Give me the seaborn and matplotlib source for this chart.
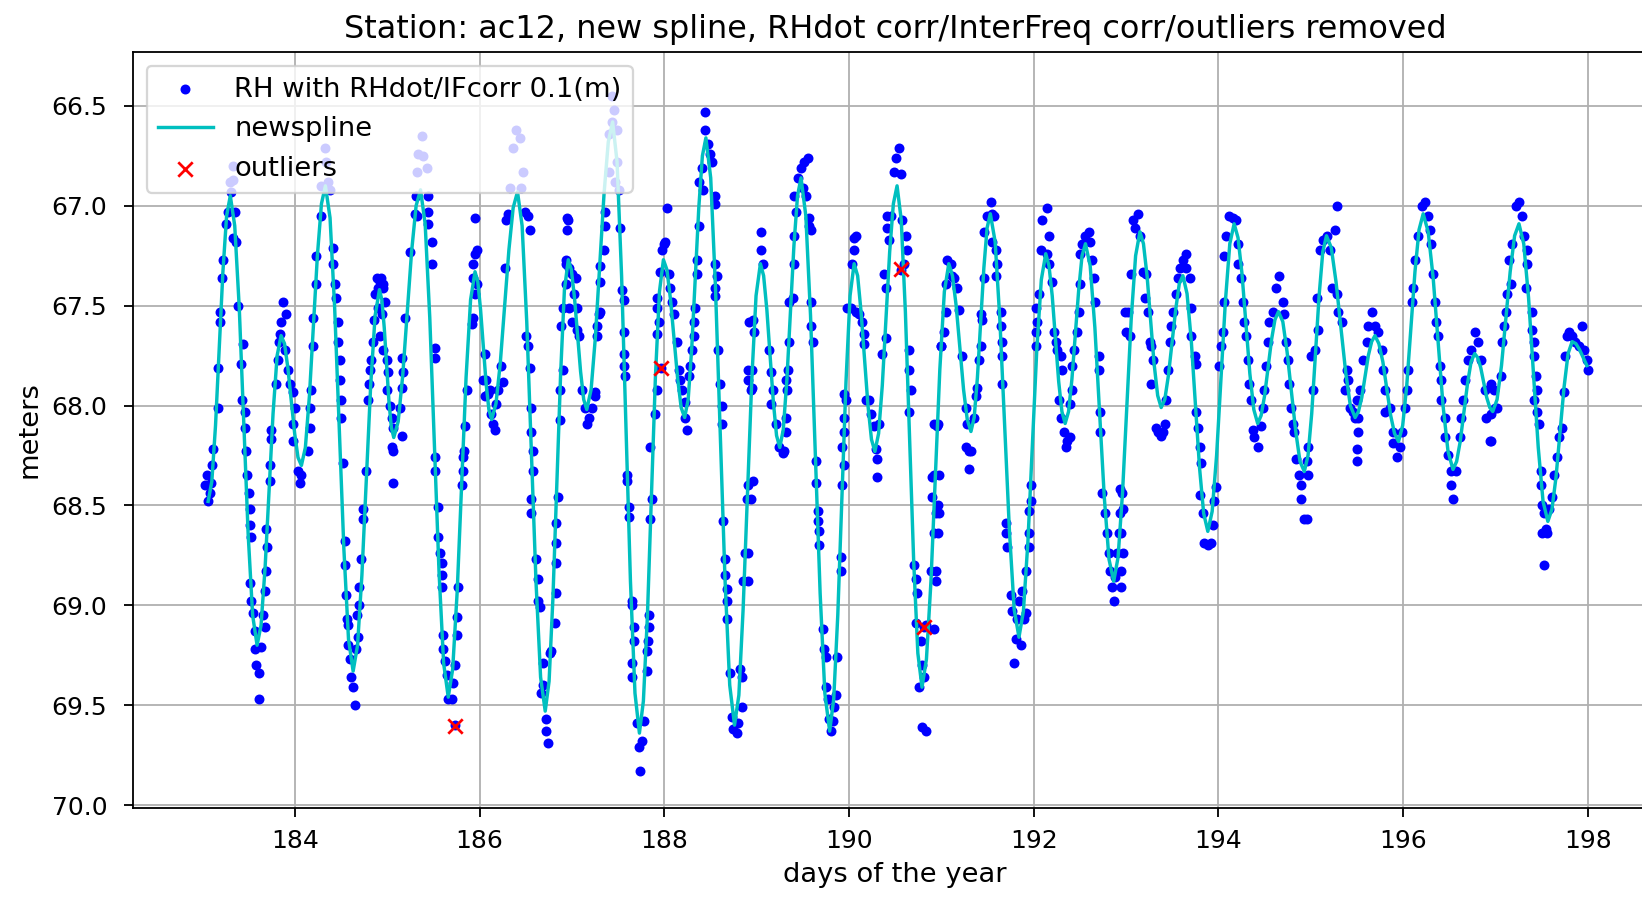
import matplotlib
matplotlib.use("Agg")
import matplotlib.pyplot as plt
import seaborn as sns
import pandas as pd

# ---------------- data ----------------
title = "Station: ac12, new spline, RHdot corr/InterFreq corr/outliers removed"

# observations, days 183-185
day_a = [183.025, 183.043, 183.061, 183.079, 183.097, 183.108, 183.087, 183.169, 183.169, 183.187,
         183.187, 183.205, 183.223, 183.252, 183.277, 183.313, 183.331, 183.324, 183.295, 183.349,
         183.331, 183.367, 183.385, 183.439, 183.421, 183.432, 183.457, 183.457, 183.475, 183.486,
         183.504, 183.511, 183.511, 183.529, 183.511, 183.529, 183.547, 183.565, 183.565, 183.583,
         183.612, 183.612, 183.637, 183.673, 183.655, 183.673, 183.691, 183.698, 183.691, 183.727,
         183.727, 183.745, 183.745, 183.799, 183.817, 183.828, 183.835, 183.853, 183.871, 183.907,
         183.889, 183.925, 183.943, 183.979, 183.997, 183.979, 183.979, 184.033, 184.051, 184.069,
         184.141, 184.159, 184.159, 184.177, 184.195, 184.195, 184.231, 184.231, 184.285, 184.285,
         184.321, 184.339, 184.357, 184.375, 184.411, 184.411, 184.429, 184.440, 184.465, 184.465,
         184.483, 184.490, 184.501, 184.501, 184.519, 184.537, 184.537, 184.555, 184.562, 184.573,
         184.573, 184.591, 184.609, 184.627, 184.645, 184.663, 184.681, 184.670, 184.692, 184.699,
         184.717, 184.735, 184.735, 184.771, 184.789, 184.807, 184.814, 184.825, 184.843, 184.861,
         184.872, 184.897, 184.933, 184.951]
rh_a = [68.40, 68.35, 68.48, 68.44, 68.30, 68.22, 68.39, 68.01, 67.81, 67.58,
        67.53, 67.36, 67.27, 67.09, 67.03, 66.93, 66.87, 66.80, 66.88, 67.03,
        67.16, 67.18, 67.50, 67.69, 67.79, 67.97, 68.03, 68.11, 68.23, 68.35,
        68.44, 68.52, 68.60, 68.66, 68.89, 68.98, 69.04, 69.13, 69.22, 69.30,
        69.34, 69.47, 69.21, 69.11, 69.05, 68.93, 68.83, 68.71, 68.62, 68.38,
        68.30, 68.17, 68.12, 67.89, 67.77, 67.68, 67.64, 67.58, 67.48, 67.54,
        67.72, 67.82, 67.89, 67.93, 68.01, 68.09, 68.18, 68.33, 68.39, 68.35,
        68.23, 68.11, 68.01, 67.92, 67.70, 67.56, 67.39, 67.25, 67.05, 66.90,
        66.71, 66.78, 66.88, 66.92, 67.21, 67.29, 67.39, 67.46, 67.58, 67.68,
        67.77, 67.87, 67.97, 68.06, 68.29, 68.68, 68.80, 68.95, 69.07, 69.10,
        69.20, 69.27, 69.36, 69.41, 69.50, 69.22, 69.16, 69.05, 69.00, 68.91,
        68.77, 68.57, 68.52, 68.33, 67.97, 67.89, 67.82, 67.77, 67.68, 67.57,
        67.44, 67.41, 67.36, 67.39]

# observations, days 185-187
day_b = [184.886, 184.922, 184.958, 184.904, 184.940, 184.976, 184.922, 184.958, 184.994, 185.012,
         184.994, 185.030, 185.048, 185.066, 185.048, 185.066, 185.059, 185.156, 185.138, 185.156,
         185.174, 185.156, 185.192, 185.246, 185.300, 185.318, 185.311, 185.318, 185.336, 185.372,
         185.390, 185.426, 185.444, 185.444, 185.444, 185.480, 185.480, 185.516, 185.516, 185.516,
         185.516, 185.552, 185.552, 185.570, 185.588, 185.588, 185.588, 185.606, 185.606, 185.624,
         185.642, 185.660, 185.696, 185.714, 185.732, 185.750, 185.750, 185.768, 185.804, 185.822,
         185.815, 185.830, 185.840, 185.858, 185.912, 185.930, 185.948, 185.930, 185.966, 185.930,
         185.948, 185.966, 185.948, 186.056, 186.038, 186.074, 186.056, 186.092, 186.110, 186.146,
         186.164, 186.128, 186.182, 186.200, 186.236, 186.254, 186.272, 186.290, 186.308, 186.326,
         186.362, 186.398, 186.434, 186.470, 186.452, 186.488, 186.524, 186.542, 186.506, 186.524,
         186.542, 186.560, 186.560, 186.578, 186.578, 186.560, 186.560, 186.614, 186.632, 186.632,
         186.650, 186.686, 186.686, 186.668, 186.722, 186.722, 186.740, 186.758, 186.776, 186.812,
         186.830, 186.830, 186.830, 186.830, 186.848, 186.866, 186.866, 186.902, 186.884, 186.902,
         186.938, 186.956, 185.730]
rh_b = [67.36, 67.38, 67.41, 67.51, 67.54, 67.48, 67.65, 67.72, 67.77, 67.83,
        67.92, 68.00, 68.06, 68.11, 68.21, 68.23, 68.39, 68.15, 68.01, 67.91,
        67.83, 67.76, 67.56, 67.23, 67.04, 67.05, 66.95, 66.83, 66.74, 66.65,
        66.75, 66.81, 66.95, 67.03, 67.09, 67.18, 67.29, 67.71, 67.76, 68.26,
        68.33, 68.51, 68.66, 68.74, 68.79, 68.85, 68.91, 69.15, 69.22, 69.28,
        69.35, 69.47, 69.47, 69.39, 69.30, 69.15, 69.06, 68.91, 68.40, 68.33,
        68.26, 68.23, 68.10, 67.92, 67.59, 67.56, 67.44, 67.36, 67.39, 67.29,
        67.24, 67.22, 67.06, 67.74, 67.87, 67.87, 67.95, 67.94, 67.92, 68.09,
        68.12, 68.04, 67.99, 67.92, 67.80, 67.88, 67.31, 67.07, 67.04, 66.91,
        66.71, 66.62, 66.66, 66.83, 66.91, 67.03, 67.05, 67.12, 67.65, 67.70,
        67.81, 68.01, 68.13, 68.23, 68.33, 68.47, 68.54, 68.77, 68.87, 68.98,
        69.01, 69.29, 69.40, 69.44, 69.57, 69.63, 69.69, 69.24, 69.23, 69.09,
        68.94, 68.79, 68.69, 68.59, 68.46, 67.92, 68.07, 67.82, 67.60, 67.51,
        67.29, 67.07, 69.60]

# observations, days 187-189
day_c = [186.948, 186.948, 186.930, 186.966, 186.930, 187.002, 187.038, 187.020, 186.966, 187.056,
         187.002, 187.056, 187.074, 187.110, 187.146, 187.164, 187.182, 187.218, 187.254, 187.254,
         187.272, 187.272, 187.290, 187.308, 187.308, 187.308, 187.344, 187.362, 187.362, 187.398,
         187.398, 187.434, 187.452, 187.434, 187.488, 187.488, 187.470, 187.506, 187.524, 187.542,
         187.560, 187.560, 187.560, 187.560, 187.578, 187.596, 187.596, 187.614, 187.614, 187.650,
         187.650, 187.668, 187.668, 187.650, 187.650, 187.704, 187.722, 187.740, 187.758, 187.776,
         187.812, 187.812, 187.823, 187.837, 187.830, 187.848, 187.866, 187.848, 187.902, 187.920,
         187.920, 187.938, 187.920, 187.920, 187.956, 187.974, 187.992, 188.010, 188.028, 188.046,
         188.064, 188.082, 188.100, 188.136, 188.154, 188.172, 188.190, 188.226, 188.244, 188.226,
         188.262, 188.280, 188.298, 188.316, 188.316, 188.334, 188.352, 188.352, 188.370, 188.377,
         188.406, 188.424, 188.442, 188.435, 188.478, 188.496, 188.514, 188.550, 188.550, 188.550,
         188.568, 188.550, 188.550, 188.586, 188.604, 188.622, 188.622, 188.640, 188.658, 188.658,
         188.676, 188.676, 188.676, 188.712, 188.730, 188.748, 188.784, 188.802, 188.838, 188.838,
         188.820, 188.856, 188.874, 188.892, 188.964, 188.946, 188.946, 187.963]
rh_c = [67.06, 67.12, 67.27, 67.31, 67.39, 67.34, 67.36, 67.44, 67.51, 67.51,
        67.58, 67.62, 67.65, 67.92, 68.01, 68.09, 68.06, 68.01, 67.93, 67.95,
        67.65, 67.60, 67.54, 67.53, 67.38, 67.30, 67.22, 67.10, 67.03, 66.83,
        66.64, 66.58, 66.52, 66.45, 66.62, 66.78, 66.88, 66.92, 67.11, 67.42,
        67.47, 67.63, 67.74, 67.80, 67.85, 68.35, 68.38, 68.51, 68.56, 68.98,
        69.00, 69.11, 69.18, 69.29, 69.36, 69.59, 69.71, 69.83, 69.68, 69.58,
        69.33, 69.23, 69.18, 69.11, 69.05, 68.57, 68.47, 68.21, 68.04, 67.92,
        67.64, 67.58, 67.51, 67.46, 67.33, 67.22, 67.19, 67.18, 67.01, 67.34,
        67.41, 67.48, 67.54, 67.68, 67.82, 67.87, 67.92, 68.06, 68.12, 67.98,
        67.85, 67.80, 67.72, 67.65, 67.58, 67.51, 67.34, 67.27, 67.10, 66.88,
        66.81, 66.92, 66.62, 66.53, 66.69, 66.74, 66.78, 66.95, 66.99, 67.29,
        67.35, 67.41, 67.45, 67.72, 67.89, 68.00, 68.09, 68.58, 68.77, 68.85,
        68.92, 68.98, 69.07, 69.34, 69.56, 69.62, 69.64, 69.59, 69.51, 69.36,
        69.32, 68.88, 68.74, 68.47, 68.38, 67.82, 67.91, 67.81]

# observations, days 189-191
day_d = [188.903, 188.903, 188.939, 188.921, 188.975, 188.957, 189.047, 189.047, 189.065, 188.903,
         188.939, 188.903, 188.903, 189.137, 189.155, 189.173, 189.155, 189.209, 189.245, 189.281,
         189.299, 189.317, 189.317, 189.328, 189.335, 189.317, 189.353, 189.353, 189.389, 189.407,
         189.407, 189.425, 189.407, 189.443, 189.479, 189.515, 189.551, 189.497, 189.533, 189.569,
         189.569, 189.587, 189.587, 189.587, 189.605, 189.641, 189.641, 189.659, 189.659, 189.677,
         189.677, 189.713, 189.731, 189.749, 189.749, 189.767, 189.785, 189.803, 189.821, 189.839,
         189.857, 189.875, 189.911, 189.911, 189.929, 189.947, 189.929, 189.947, 189.947, 189.965,
         189.947, 189.983, 190.037, 190.055, 190.055, 190.073, 190.019, 190.073, 190.109, 190.145,
         190.163, 190.163, 190.181, 190.217, 190.235, 190.271, 190.289, 190.307, 190.307, 190.325,
         190.361, 190.397, 190.379, 190.397, 190.415, 190.415, 190.433, 190.451, 190.487, 190.505,
         190.541, 190.559, 190.577, 190.613, 190.631, 190.595, 190.649, 190.649, 190.667, 190.649,
         190.703, 190.721, 190.739, 190.721, 190.775, 190.793, 190.757, 190.811, 190.793, 190.829,
         190.829, 190.883, 190.919, 190.937, 190.901, 190.901, 190.955, 190.991, 190.566, 190.810]
rh_d = [67.82, 67.87, 67.92, 67.58, 67.63, 67.57, 67.13, 67.22, 67.29, 68.40,
        68.47, 68.74, 68.88, 67.72, 67.83, 67.92, 67.99, 68.09, 68.21, 68.24,
        68.23, 68.13, 68.06, 67.92, 67.82, 67.87, 67.68, 67.48, 67.46, 67.29,
        67.15, 67.03, 66.95, 66.86, 66.81, 66.78, 66.76, 66.91, 66.95, 67.06,
        67.10, 67.12, 67.48, 67.60, 67.68, 68.28, 68.39, 68.53, 68.58, 68.63,
        68.70, 69.12, 69.22, 69.26, 69.41, 69.47, 69.57, 69.63, 69.58, 69.51,
        69.45, 69.26, 68.76, 68.83, 68.40, 68.30, 68.21, 68.13, 68.06, 67.97,
        67.94, 67.51, 67.29, 67.22, 67.16, 67.15, 67.51, 67.53, 67.54, 67.58,
        67.69, 67.64, 67.97, 67.97, 68.04, 68.10, 68.22, 68.27, 68.36, 68.09,
        67.74, 67.66, 67.34, 67.41, 67.11, 67.05, 67.17, 67.05, 66.83, 66.76,
        66.71, 66.84, 67.07, 67.15, 67.22, 67.29, 67.72, 67.82, 67.92, 68.03,
        68.80, 68.87, 68.94, 69.09, 69.18, 69.30, 69.41, 69.36, 69.61, 69.63,
        69.10, 68.83, 68.64, 68.54, 68.46, 68.36, 68.10, 67.70, 67.32, 69.11]

# observations, days 191-193
day_e = [190.922, 190.958, 190.976, 190.922, 190.958, 190.976, 190.958, 190.940, 190.940, 190.922,
         190.994, 191.030, 191.048, 191.048, 191.066, 191.102, 191.120, 191.138, 191.174, 191.192,
         191.228, 191.264, 191.282, 191.264, 191.300, 191.318, 191.300, 191.354, 191.372, 191.390,
         191.408, 191.426, 191.444, 191.426, 191.462, 191.462, 191.498, 191.534, 191.552, 191.570,
         191.552, 191.588, 191.606, 191.588, 191.642, 191.642, 191.660, 191.660, 191.660, 191.696,
         191.696, 191.714, 191.750, 191.768, 191.786, 191.804, 191.822, 191.840, 191.858, 191.876,
         191.894, 191.912, 191.912, 191.948, 191.948, 191.948, 191.966, 191.966, 192.020, 192.020,
         192.038, 192.020, 192.056, 192.074, 192.092, 192.146, 192.164, 192.146, 192.164, 192.200,
         192.218, 192.236, 192.254, 192.290, 192.308, 192.272, 192.290, 192.326, 192.344, 192.362,
         192.398, 192.398, 192.416, 192.416, 192.434, 192.470, 192.488, 192.506, 192.506, 192.524,
         192.560, 192.596, 192.614, 192.632, 192.650, 192.668, 192.704, 192.704, 192.722, 192.722,
         192.740, 192.776, 192.794, 192.812, 192.830, 192.848, 192.866, 192.884, 192.902, 192.920,
         192.938, 192.956, 192.992]
rh_e = [68.09, 68.09, 68.35, 68.35, 68.50, 68.54, 68.64, 68.83, 68.88, 69.12,
        67.70, 67.63, 67.53, 67.39, 67.27, 67.29, 67.35, 67.36, 67.41, 67.52,
        67.75, 68.01, 68.09, 68.21, 68.23, 68.23, 68.32, 68.06, 67.95, 67.91,
        67.77, 67.70, 67.57, 67.54, 67.36, 67.13, 67.05, 66.98, 67.04, 67.05,
        67.18, 67.22, 67.29, 67.35, 67.53, 67.60, 67.68, 67.75, 67.89, 68.59,
        68.64, 68.71, 68.95, 69.03, 69.29, 69.17, 69.07, 68.98, 69.20, 68.93,
        69.07, 69.04, 68.83, 68.71, 68.64, 68.53, 68.48, 68.40, 67.70, 67.63,
        67.58, 67.51, 67.44, 67.22, 67.07, 67.01, 67.15, 67.24, 67.29, 67.38,
        67.63, 67.68, 67.72, 67.75, 67.82, 67.97, 68.06, 68.13, 68.21, 68.18,
        68.16, 67.99, 67.92, 67.80, 67.72, 67.63, 67.53, 67.39, 67.24, 67.19,
        67.15, 67.13, 67.18, 67.27, 67.36, 67.48, 67.75, 67.82, 68.03, 68.13,
        68.44, 68.54, 68.64, 68.74, 68.83, 68.91, 68.98, 68.86, 68.74, 68.64,
        68.54, 68.44, 67.53]

# observations, days 193-195
day_f = [192.931, 192.967, 192.949, 192.967, 192.949, 192.949, 193.003, 193.021, 193.039, 193.057,
         193.075, 193.093, 193.129, 193.147, 193.183, 193.219, 193.201, 193.237, 193.255, 193.273,
         193.291, 193.273, 193.327, 193.345, 193.381, 193.399, 193.417, 193.435, 193.453, 193.471,
         193.489, 193.507, 193.543, 193.561, 193.579, 193.615, 193.651, 193.651, 193.687, 193.705,
         193.705, 193.741, 193.759, 193.759, 193.777, 193.795, 193.813, 193.795, 193.831, 193.849,
         193.885, 193.921, 193.939, 193.957, 193.975, 194.011, 194.029, 194.047, 194.065, 194.065,
         194.083, 194.119, 194.155, 194.191, 194.209, 194.209, 194.245, 194.263, 194.281, 194.299,
         194.317, 194.335, 194.353, 194.371, 194.389, 194.425, 194.461, 194.479, 194.497, 194.515,
         194.533, 194.551, 194.587, 194.623, 194.659, 194.695, 194.713, 194.731, 194.749, 194.767,
         194.785, 194.803, 194.821, 194.839, 194.875, 194.893, 194.893, 194.929, 194.965, 195.001]
rh_f = [68.42, 68.52, 68.64, 68.74, 68.83, 68.91, 67.63, 67.53, 67.65, 67.34,
        67.07, 67.11, 67.04, 67.15, 67.33, 67.34, 67.46, 67.53, 67.68, 67.70,
        67.77, 67.89, 68.11, 68.13, 68.15, 68.13, 68.09, 67.97, 67.82, 67.68,
        67.60, 67.53, 67.44, 67.36, 67.31, 67.27, 67.24, 67.31, 67.36, 67.51,
        67.65, 67.75, 67.79, 68.03, 68.11, 68.21, 68.29, 68.45, 68.54, 68.69,
        68.70, 68.69, 68.60, 68.48, 68.41, 67.80, 67.70, 67.63, 67.48, 67.25,
        67.15, 67.05, 67.06, 67.07, 67.19, 67.29, 67.36, 67.48, 67.58, 67.65,
        67.77, 67.89, 67.97, 68.12, 68.16, 68.21, 68.10, 68.01, 67.92, 67.80,
        67.68, 67.58, 67.53, 67.41, 67.35, 67.48, 67.54, 67.68, 67.77, 67.89,
        68.01, 68.09, 68.13, 68.27, 68.35, 68.40, 68.47, 68.57, 68.21, 67.75]

# observations, days 195-197
day_g = [194.957, 194.975, 194.957, 195.029, 195.047, 195.083, 195.065, 195.101, 195.137, 195.173,
         195.209, 195.281, 195.263, 195.227, 195.281, 195.299, 195.335, 195.389, 195.407, 195.371,
         195.425, 195.461, 195.479, 195.497, 195.533, 195.515, 195.515, 195.497, 195.497, 195.569,
         195.605, 195.623, 195.659, 195.695, 195.731, 195.767, 195.785, 195.803, 195.803, 195.857,
         195.893, 195.893, 195.929, 195.965, 195.983, 196.019, 196.037, 196.055, 196.091, 196.109,
         196.127, 196.163, 196.199, 196.235, 196.271, 196.289, 196.307, 196.325, 196.343, 196.361,
         196.379, 196.397, 196.415, 196.415, 196.451, 196.451, 196.487, 196.523, 196.523, 196.541,
         196.577, 196.613, 196.631, 196.649, 196.667, 196.703, 196.739, 196.775, 196.811, 196.847,
         196.883, 196.901, 196.937, 196.955, 196.990]
rh_g = [68.28, 68.35, 68.57, 67.92, 67.72, 67.62, 67.46, 67.22, 67.17, 67.15,
        67.22, 67.00, 67.12, 67.41, 67.44, 67.53, 67.58, 67.82, 67.87, 67.92,
        68.01, 68.03, 68.06, 67.97, 67.92, 68.06, 68.13, 68.22, 68.28, 67.77,
        67.68, 67.60, 67.53, 67.60, 67.63, 67.72, 67.82, 67.92, 68.03, 68.01,
        68.13, 68.19, 68.26, 68.21, 68.13, 68.01, 67.92, 67.82, 67.48, 67.41,
        67.27, 67.15, 67.00, 66.98, 67.05, 67.12, 67.19, 67.34, 67.48, 67.58,
        67.65, 67.80, 67.87, 67.97, 68.06, 68.16, 68.25, 68.33, 68.40, 68.47,
        68.33, 68.16, 68.06, 67.97, 67.87, 67.77, 67.72, 67.63, 67.68, 67.77,
        67.92, 68.06, 68.18, 68.04, 68.01]

# observations, days 197-198
day_h = [196.948, 196.984, 197.020, 196.948, 197.056, 197.074, 197.092, 197.110, 197.128, 197.164,
         197.146, 197.182, 197.218, 197.254, 197.290, 197.308, 197.344, 197.344, 197.326, 197.398,
         197.398, 197.416, 197.416, 197.434, 197.452, 197.416, 197.452, 197.470, 197.488, 197.488,
         197.506, 197.524, 197.506, 197.542, 197.560, 197.524, 197.578, 197.614, 197.632, 197.668,
         197.686, 197.722, 197.740, 197.758, 197.776, 197.794, 197.830, 197.866, 197.902, 197.938,
         197.956, 197.992, 198.000]
rh_h = [67.89, 67.92, 68.01, 68.18, 67.85, 67.68, 67.60, 67.53, 67.44, 67.39,
        67.27, 67.19, 67.00, 66.98, 67.05, 67.15, 67.22, 67.29, 67.41, 67.53,
        67.62, 67.68, 67.75, 67.85, 67.92, 67.97, 68.03, 68.09, 68.33, 68.40,
        68.50, 68.54, 68.64, 68.62, 68.64, 68.80, 68.52, 68.46, 68.35, 68.26,
        68.16, 68.11, 67.93, 67.75, 67.65, 67.63, 67.65, 67.68, 67.70, 67.60,
        67.72, 67.77, 67.82]

# new spline (extrema and points between them)
spline_day = [183.06, 183.14, 183.22, 183.30, 183.397, 183.493, 183.59, 183.677, 183.763, 183.85,
              183.923, 183.997, 184.07, 184.157, 184.243, 184.33, 184.43, 184.53, 184.63, 184.725,
              184.82, 184.915, 184.967, 185.018, 185.07, 185.167, 185.263, 185.36, 185.46, 185.56,
              185.66, 185.757, 185.853, 185.95, 186.01, 186.07, 186.13, 186.223, 186.317, 186.41,
              186.51, 186.61, 186.71, 186.793, 186.877, 186.96, 187.027, 187.093, 187.16, 187.253,
              187.347, 187.44, 187.537, 187.633, 187.73, 187.817, 187.903, 187.99, 188.067, 188.143,
              188.22, 188.297, 188.373, 188.45, 188.553, 188.657, 188.76, 188.853, 188.947, 189.04,
              189.11, 189.18, 189.25, 189.327, 189.403, 189.48, 189.583, 189.687, 189.79, 189.878,
              189.967, 190.055, 190.13, 190.205, 190.28, 190.36, 190.44, 190.52, 190.61, 190.70,
              190.79, 190.887, 190.983, 191.08, 191.16, 191.24, 191.32, 191.39, 191.46, 191.53,
              191.633, 191.737, 191.84, 191.937, 192.033, 192.13, 192.20, 192.27, 192.34, 192.413,
              192.487, 192.56, 192.662, 192.764, 192.866, 192.961, 193.055, 193.15, 193.227, 193.303,
              193.38, 193.458, 193.537, 193.615, 193.705, 193.795, 193.885, 193.98, 194.075, 194.17,
              194.255, 194.34, 194.425, 194.50, 194.575, 194.65, 194.743, 194.837, 194.93, 195.01,
              195.09, 195.17, 195.273, 195.377, 195.48, 195.552, 195.623, 195.695, 195.78, 195.865,
              195.95, 196.039, 196.128, 196.217, 196.325, 196.432, 196.54, 196.618, 196.697, 196.775,
              196.84, 196.905, 196.97, 197.065, 197.159, 197.254, 197.358, 197.463, 197.567, 197.655,
              197.742, 197.83, 197.91, 197.99]
spline_rh = [68.48, 68.10, 67.33, 66.95, 67.51, 68.64, 69.20, 68.81, 68.04, 67.65,
             67.81, 68.14, 68.30, 67.95, 67.25, 66.90, 67.51, 68.72, 69.33, 68.85,
             67.90, 67.42, 67.61, 67.98, 68.16, 67.85, 67.23, 66.92, 67.56, 68.83,
             69.46, 68.93, 67.86, 67.33, 67.52, 67.89, 68.07, 67.79, 67.22, 66.93,
             67.58, 68.88, 69.53, 68.97, 67.84, 67.27, 67.46, 67.83, 68.02, 67.66,
             66.94, 66.58, 67.35, 68.88, 69.64, 69.05, 67.86, 67.27, 67.47, 67.86,
             68.06, 67.71, 67.01, 66.66, 67.40, 68.87, 69.60, 69.02, 67.87, 67.29,
             67.52, 67.98, 68.21, 67.87, 67.20, 66.86, 67.55, 68.94, 69.63, 69.05,
             67.88, 67.29, 67.53, 68.00, 68.23, 67.90, 67.23, 66.90, 67.53, 68.78,
             69.41, 68.88, 67.82, 67.29, 67.50, 67.92, 68.13, 67.86, 67.31, 67.04,
             67.57, 68.63, 69.16, 68.68, 67.72, 67.24, 67.45, 67.88, 68.09, 67.87,
             67.42, 67.19, 67.61, 68.46, 68.88, 68.44, 67.57, 67.13, 67.35, 67.79,
             68.01, 67.85, 67.52, 67.35, 67.67, 68.31, 68.63, 68.25, 67.48, 67.09,
             67.34, 67.84, 68.09, 67.95, 67.67, 67.53, 67.73, 68.13, 68.33, 68.04,
             67.45, 67.15, 67.38, 67.83, 68.06, 67.96, 67.75, 67.65, 67.78, 68.05,
             68.18, 67.90, 67.33, 67.04, 67.36, 68.00, 68.32, 68.18, 67.89, 67.74,
             67.81, 67.96, 68.03, 67.80, 67.33, 67.09, 67.46, 68.21, 68.58, 68.36,
             67.91, 67.68, 67.72, 67.80]

# extra spline readings close to each turning point
spline_day2 = [183.10, 183.26, 183.348, 183.542, 183.633, 183.807, 183.887, 184.033, 184.113, 184.287,
               184.38, 184.58, 184.678, 184.868, 184.941, 185.044, 185.118, 185.312, 185.41, 185.61,
               185.708, 185.902, 185.98, 186.10, 186.177, 186.363, 186.46, 186.66, 186.752, 186.918,
               186.993, 187.127, 187.207, 187.393, 187.488, 187.682, 187.773, 187.947, 188.028, 188.182,
               188.258, 188.412, 188.502, 188.708, 188.807, 188.993, 189.075, 189.215, 189.288, 189.442,
               189.532, 189.738, 189.834, 190.011, 190.093, 190.243, 190.32, 190.48, 190.565, 190.745,
               190.838, 191.032, 191.12, 191.28, 191.355, 191.495, 191.582, 191.788, 191.888, 192.082,
               192.165, 192.305, 192.377, 192.523, 192.611, 192.815, 192.913, 193.103, 193.188, 193.342,
               193.419, 193.576, 193.66, 193.84, 193.932, 194.123, 194.212, 194.383, 194.462, 194.612,
               194.697, 194.883, 194.97, 195.13, 195.222, 195.428, 195.516, 195.659, 195.737, 195.907,
               195.995, 196.172, 196.271, 196.486, 196.579, 196.736, 196.807, 196.938, 197.017, 197.207,
               197.306, 197.515, 197.611, 197.786, 197.87, 197.95]
spline_rh2 = [68.38, 67.05, 67.10, 69.05, 69.10, 67.75, 67.69, 68.26, 68.21, 66.99,
              67.06, 69.17, 69.20, 67.55, 67.47, 68.11, 68.08, 67.00, 67.09, 69.29,
              69.32, 67.47, 67.38, 68.02, 67.99, 67.01, 67.10, 69.36, 69.38, 67.42,
              67.32, 67.97, 67.92, 66.68, 66.78, 69.44, 69.48, 67.43, 67.32, 68.01,
              67.97, 66.75, 66.86, 69.40, 69.45, 67.45, 67.35, 68.15, 68.12, 66.95,
              67.05, 69.44, 69.47, 67.45, 67.35, 68.17, 68.14, 66.99, 67.07, 69.24,
              69.27, 67.43, 67.35, 68.07, 68.06, 67.11, 67.18, 69.02, 69.03, 67.37,
              67.30, 68.03, 68.03, 67.25, 67.30, 68.77, 68.76, 67.25, 67.19, 67.95,
              67.97, 67.39, 67.44, 68.54, 68.53, 67.19, 67.16, 68.02, 68.05, 67.57,
              67.58, 68.28, 68.25, 67.23, 67.21, 68.00, 68.03, 67.68, 67.69, 68.14,
              68.10, 67.12, 67.13, 68.23, 68.28, 67.78, 67.76, 68.01, 67.97, 67.15,
              67.19, 68.48, 68.52, 67.74, 67.69, 67.76]

# outliers
out_day = [185.730, 187.963, 190.566, 190.810]
out_rh = [69.605, 67.810, 67.315, 69.110]

# ---------------- assemble ----------------
obs_day = day_a + day_b + day_c + day_d + day_e + day_f + day_g + day_h
obs_rh = rh_a + rh_b + rh_c + rh_d + rh_e + rh_f + rh_g + rh_h
assert len(obs_day) == len(obs_rh), (len(obs_day), len(obs_rh))
assert len(spline_day) == len(spline_rh), (len(spline_day), len(spline_rh))
assert len(spline_day2) == len(spline_rh2), (len(spline_day2), len(spline_rh2))

obs = pd.DataFrame({"day": obs_day, "rh": obs_rh})
spl = pd.DataFrame({"day": spline_day + spline_day2,
                    "rh": spline_rh + spline_rh2}).sort_values("day")
outl = pd.DataFrame({"day": out_day, "rh": out_rh})

# ---------------- draw ----------------
DPI = 164
fig = plt.figure(figsize=(1642 / DPI, 898 / DPI), dpi=DPI)
ax = fig.add_axes([0.0812, 0.1002, 0.928, 0.8419])

sns.scatterplot(data=obs, x="day", y="rh", ax=ax, color="b", edgecolor="b",
                s=12, linewidth=0.9, label="RH with RHdot/IFcorr 0.1(m)", zorder=2)
sns.lineplot(data=spl, x="day", y="rh", ax=ax, color="c", sort=False,
             estimator=None, linewidth=1.5, label="newspline", zorder=3)
sns.scatterplot(data=outl, x="day", y="rh", ax=ax, color="r", marker="x",
                s=40, linewidth=1.2, label="outliers", zorder=4)

ax.set_xlim(182.25, 198.75)
ax.set_ylim(70.015, 66.23)
ax.grid(True)
ax.tick_params(axis="both", labelsize=11, length=4)
ax.tick_params(axis="y", pad=7.5)
ax.tick_params(axis="x", pad=5)
ax.set_title(title, fontsize=14)
ax.set_xlabel("days of the year", fontsize=12)
ax.set_ylabel("meters", fontsize=12)
ax.legend(loc="upper left", fontsize=12)

fig.savefig("out.png", dpi=DPI)
